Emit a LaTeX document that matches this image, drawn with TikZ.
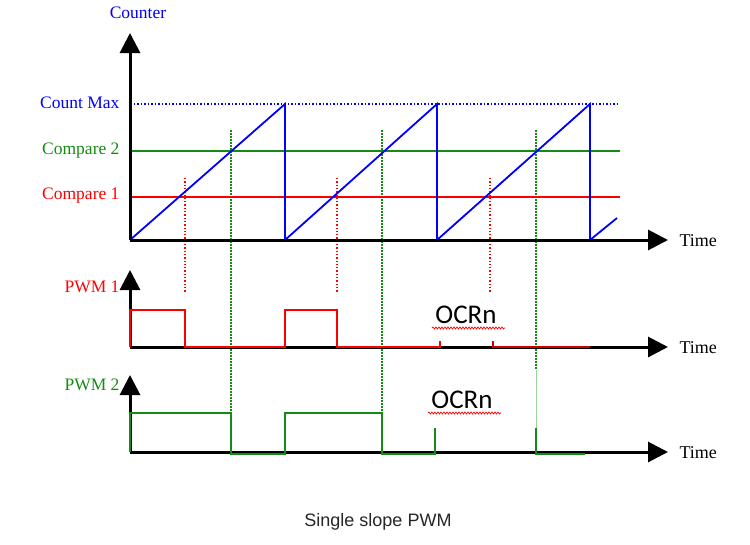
\documentclass[tikz,border=0pt]{standalone}
\usepackage{fontspec}
\setmainfont{Liberation Serif}
\newfontfamily\calib{Carlito}
\newfontfamily\capf{Liberation Sans}
\usetikzlibrary{arrows.meta,decorations.pathmorphing}
\definecolor{gr}{RGB}{20,140,20}
\begin{document}
\begin{tikzpicture}[x=1pt,y=-1pt,
 ax/.style={line width=3pt,-{Triangle[width=20pt,length=20pt]}},
 lab/.style={font=\fontsize{17.5}{20}\selectfont,anchor=east},
 tm/.style={font=\fontsize{18}{20}\selectfont,anchor=west},
 ocr/.style={font=\calib\fontsize{27}{30}\selectfont},
 wav/.style={red,line width=0.7pt,decorate,decoration={snake,amplitude=1pt,segment length=3pt}},
 rdot/.style={red,line width=1.3pt,dash pattern=on 1.3pt off 2pt},
 gdot/.style={gr,line width=1.6pt,dash pattern=on 1.5pt off 1.5pt}]
\useasboundingbox (0,0) rectangle (750,544);
% dotted verticals
\foreach \x in {185,337,490} \draw[rdot] (\x,178) -- (\x,292);
\foreach \x in {231,382} \draw[gdot] (\x,130) -- (\x,455);
\draw[gdot] (536,130) -- (536,370);
\draw[gr!40,line width=0.6pt] (536,370) -- (536,430);
% top plot
\draw[blue,line width=1.6pt,dash pattern=on 1.5pt off 2pt] (130,104) -- (620,104);
\draw[gr,line width=2pt] (130,151) -- (620,151);
\draw[red,line width=2pt] (130,197) -- (620,197);
\draw[blue,line width=1.8pt] (130,240) -- (285,104) -- (285,240) -- (437,104) -- (437,240) -- (590,104) -- (590,240) -- (617,218);
\coordinate (o1) at (130,240);
\draw[ax] (o1) -- (130,33);
\draw[ax] (o1) -- (668,240);
\node[blue,font=\fontsize{17.5}{20}\selectfont] (cnt) at (138,13) {Counter};
\node[lab,blue] (cm) at (123,103) {Count Max};
\node[lab,gr] (c2) at (123,151) {Compare 2};
\node[lab,red] (c1) at (123,196) {Compare 1};
\node[tm] (t1) at (676,241) {Time};
% PWM1
\coordinate (o2) at (130,347);
\draw[ax] (o2) -- (130,270);
\draw[ax] (o2) -- (668,347);
\draw[red,line width=1.8pt] (130,347) -- (130,310) -- (185,310) -- (185,347) -- (285,347) -- (285,310) -- (337,310) -- (337,347) -- (440,347) -- (440,341);
\draw[red!80!black,line width=2.6pt] (493,341) -- (493,347) -- (590,347);
\node[lab,red] (p1) at (123,287) {PWM 1};
\node[tm] (t2) at (676,348) {Time};
\node[ocr] (ocr1) at (466,315) {OCRn};
\draw[wav] (432,328) -- (505,328);
% PWM2
\coordinate (o3) at (130,452);
\draw[ax] (o3) -- (130,375);
\draw[ax] (o3) -- (668,452);
\draw[gr,line width=1.8pt] (130,452) -- (130,413) -- (231,413) -- (231,454) -- (285,454) -- (285,413) -- (382,413) -- (382,454) -- (435,454) -- (435,428);
\draw[gr,line width=1.8pt] (536,428) -- (536,454) -- (585,454);
\node[lab,gr] (p2) at (123,385) {PWM 2};
\node[tm] (t3) at (676,453) {Time};
\node[ocr] (ocr2) at (462,400) {OCRn};
\draw[wav] (428,413) -- (501,413);
\node[font=\capf\fontsize{18}{20}\selectfont,text=black!85] (cap) at (378,522) {Single slope PWM};
\end{tikzpicture}
\end{document}
